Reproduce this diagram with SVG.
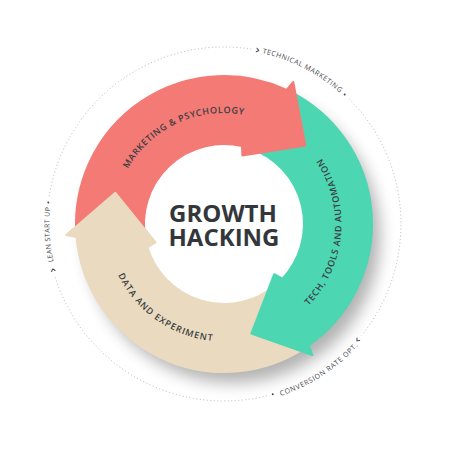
<svg xmlns="http://www.w3.org/2000/svg" xmlns:xlink="http://www.w3.org/1999/xlink" width="450" height="450" viewBox="0 0 450 450">
  <style>
    .red { fill: #F47A76; stroke: #F47A76; }
    .teal { fill: #4DD6B2; stroke: #4DD6B2; }
    .beige { fill: #EADAC0; stroke: #EADAC0; }
    .arrow { stroke-width: 2; stroke-linejoin: round; }
    .lbl { font-family: "Open Sans", "Liberation Sans", sans-serif; font-size: 9px; font-weight: 600; fill: #3a3d42; }
    .out { font-family: "Open Sans", "Liberation Sans", sans-serif; font-size: 7px; fill: #45484c; }
    .title { font-family: "Open Sans", "Liberation Sans", sans-serif; font-size: 24px; font-weight: 700; fill: #33373b; text-anchor: middle; }
    .dots { fill: none; stroke: #b5b5b5; stroke-width: 1; stroke-dasharray: 1 2.5; }
    .chev { fill: none; stroke: #45484c; stroke-width: 1; stroke-linecap: round; stroke-linejoin: round; }
  </style>
  <defs>
    <filter id="sh" x="-30%" y="-30%" width="160%" height="160%">
      <feGaussianBlur stdDeviation="8"/>
    </filter>
    <path id="arrowShape" d="M -45.73 -140.76 A 148 148 0 0 1 145.75 25.70 L 155.09 30.15 L 96.86 58.20 L 71 0 L 79.95 -2.79 A 80 80 0 0 0 -33.81 -72.50 Z"/>
    <path id="headShape" d="M 155.09 30.15 L 96.86 58.20 L 71 0 Z"/>
    <path id="pRed" d="M 119.70 261.96 A 111 111 0 0 1 320.13 168.5"/>
    <path id="pTeal" d="M 224 341.5 A 117.5 117.5 0 0 0 244.40 108.28"/>
    <path id="pBeige" d="M 122.24 165.25 A 117.5 117.5 0 0 0 314.01 299.53"/>
    <path id="pTech" d="M 84.24 118.68 A 175 175 0 0 1 391.35 275.17"/>
    <path id="pLean" d="M 204.25 397.38 A 174.5 174.5 0 0 1 183.27 54.32"/>
    <path id="pConv" d="M 91.62 347.44 A 181 181 0 0 0 390.61 153.28"/>
  </defs>

  <rect width="450" height="450" fill="#ffffff"/>

  <g id="outer-ring">
    <path class="dots" d="M 349.16 98.84 A 177 177 0 0 1 361.55 335.39"/>
    <path class="dots" d="M 266.82 395.74 A 177 177 0 0 1 54.73 275.75"/>
    <path class="dots" d="M 49.18 196.31 A 177 177 0 0 1 251.69 49.18"/>
  </g>

  <g id="label-technical-marketing">
    <path class="chev" transform="translate(257.77 50.25) rotate(11)" d="M -1.2 -1.8 L 1 0 L -1.2 1.8"/>
    <text class="out"><textPath xlink:href="#pTech" href="#pTech" startOffset="50%" text-anchor="middle" textLength="88" lengthAdjust="spacing">TECHNICAL MARKETING</textPath></text>
    <circle cx="344.71" cy="94.55" r="1" fill="#45484c"/>
  </g>

  <g id="label-conversion">
    <path class="chev" transform="translate(357.58 340.12) rotate(131)" d="M -1.2 -1.8 L 1 0 L -1.2 1.8"/>
    <text class="out"><textPath xlink:href="#pConv" href="#pConv" startOffset="50%" text-anchor="middle" textLength="93" lengthAdjust="spacing">CONVERSION RATE OPT.</textPath></text>
    <circle cx="272.78" cy="394.15" r="1" fill="#45484c"/>
  </g>

  <g id="label-lean">
    <path class="chev" transform="translate(53.03 269.81) rotate(255)" d="M -1.2 -1.8 L 1 0 L -1.2 1.8"/>
    <text class="out"><textPath xlink:href="#pLean" href="#pLean" startOffset="50%" text-anchor="middle" textLength="55" lengthAdjust="spacing">LEAN START UP</textPath></text>
    <circle cx="48.32" cy="202.43" r="1" fill="#45484c"/>
  </g>

  <circle cx="233" cy="236" r="147" fill="#000" opacity="0.3" filter="url(#sh)"/>
  <circle cx="224" cy="224" r="80" fill="#ffffff"/>

  <g id="arrow-data">
    <use href="#arrowShape" xlink:href="#arrowShape" class="beige arrow" transform="translate(224 224) rotate(165)"/>
  </g>
  <g id="arrow-tech">
    <use href="#arrowShape" xlink:href="#arrowShape" class="teal arrow" transform="translate(224 224) rotate(45)"/>
  </g>
  <g id="arrow-marketing">
    <use href="#arrowShape" xlink:href="#arrowShape" class="red arrow" transform="translate(224 224) rotate(285)"/>
  </g>
  <g id="arrow-data-head">
    <use href="#headShape" xlink:href="#headShape" class="beige arrow" transform="translate(224 224) rotate(165)"/>
  </g>

  <g id="labels">
    <text class="lbl"><textPath xlink:href="#pRed" href="#pRed" startOffset="50%" text-anchor="middle" textLength="136" lengthAdjust="spacing">MARKETING &amp; PSYCHOLOGY</textPath></text>
    <text class="lbl"><textPath xlink:href="#pTeal" href="#pTeal" startOffset="50%" text-anchor="middle" textLength="160" lengthAdjust="spacing">TECH, TOOLS AND AUTOMATION</textPath></text>
    <text class="lbl"><textPath xlink:href="#pBeige" href="#pBeige" startOffset="50%" text-anchor="middle" textLength="120" lengthAdjust="spacing">DATA AND EXPERIMENT</textPath></text>
  </g>

  <g id="center">
    <text class="title"><tspan x="223" y="221.5">GROWTH</tspan><tspan x="224" y="246">HACKING</tspan></text>
  </g>
</svg>
